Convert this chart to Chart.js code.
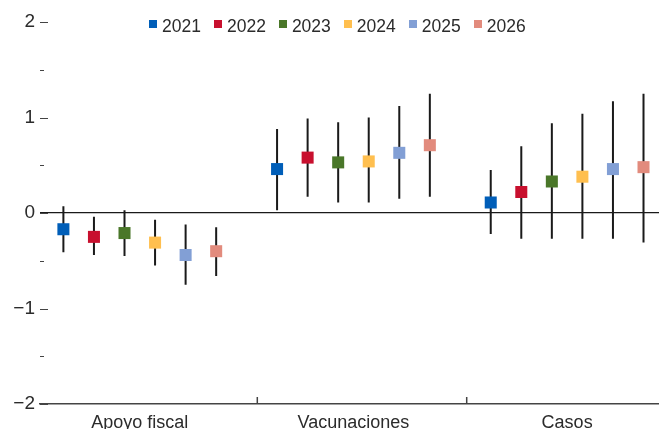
<!DOCTYPE html>
<html>
<head>
<meta charset="utf-8">
<script src="https://cdn.jsdelivr.net/npm/chart.js@4.4.1/dist/chart.umd.min.js"></script>
<style>
  html, body { margin: 0; padding: 0; background: #fff; }
  #wrap { width: 659px; height: 429px; position: relative; }
  #legend { position: absolute; top: 18px; left: 149px; display: flex; font-family: 'Liberation Sans', Arial, sans-serif; font-size: 17.5px; line-height: 17px; color: #2b2b2b; }
  #legend .item { display: flex; align-items: flex-start; margin-right: 13px; }
  #legend .box { width: 8px; height: 8px; margin-top: 1.5px; margin-right: 5px; }
</style>
</head>
<body>
<div id="wrap"><canvas id="chart"></canvas><div id="legend"></div></div>
<script>
// categories and series
const categories = ["Apoyo fiscal", "Vacunaciones", "Casos"];
const years = ["2021", "2022", "2023", "2024", "2025", "2026"];
const colors = ["#005eb8", "#c8102e", "#4a7729", "#ffbf4f", "#829fd5", "#e28b7d"];

// point estimates and bands, one value per year
const fiscalMid  = [-0.17, -0.25, -0.21, -0.31, -0.44, -0.40];
const fiscalLow  = [-0.41, -0.44, -0.45, -0.55, -0.75, -0.66];
const fiscalHigh = [0.07, -0.04, 0.03, -0.07, -0.12, -0.15];

const vacMid  = [0.46, 0.58, 0.53, 0.54, 0.63, 0.71];
const vacLow  = [0.03, 0.17, 0.11, 0.11, 0.15, 0.17];
const vacHigh = [0.88, 0.99, 0.95, 1.00, 1.12, 1.25];

const casosMid  = [0.11, 0.22, 0.33, 0.38, 0.46, 0.48];
const casosLow  = [-0.22, -0.27, -0.27, -0.27, -0.27, -0.31];
const casosHigh = [0.45, 0.70, 0.94, 1.04, 1.17, 1.25];

// y axis ticks
const yTickValues = [-2, -1.5, -1, -0.5, 0, 0.5, 1, 1.5, 2];

const mids = [fiscalMid, vacMid, casosMid];
const lows = [fiscalLow, vacLow, casosLow];
const highs = [fiscalHigh, vacHigh, casosHigh];

const FONT = "'Liberation Sans', Arial, sans-serif";
const TEXT = "#2b2b2b";
const step = 0.143;          // spacing between years inside a group
const groupBreaks = [0.55, 1.53];

//! ------------------------ datasets ------------------------
const datasets = [];
years.forEach((yr, j) => {
  const off = (j - (years.length - 1) / 2) * step;
  datasets.push({
    type: "scatter",
    label: yr,
    data: categories.map((c, i) => ({ x: i + off, y: mids[i][j] })),
    backgroundColor: colors[j],
    borderColor: colors[j],
    borderWidth: 0,
    pointStyle: "rect",
    pointRadius: 8.5,
    pointHoverRadius: 8.5,
    order: 1,
  });
});
years.forEach((yr, j) => {
  const off = (j - (years.length - 1) / 2) * step;
  const pts = [];
  categories.forEach((c, i) => {
    pts.push({ x: i + off, y: lows[i][j] });
    pts.push({ x: i + off, y: highs[i][j] });
    pts.push({ x: i + off, y: null });
  });
  datasets.push({
    type: "line",
    label: "",
    data: pts,
    borderColor: "#1a1a1a",
    borderWidth: 2,
    pointRadius: 0,
    spanGaps: false,
    fill: false,
    order: 2,
  });
});

//! ------------------------ small axis marks ------------------------
const axisMarks = {
  id: "axisMarks",
  afterDraw(chart) {
    const { ctx, chartArea, scales } = chart;
    ctx.save();
    ctx.strokeStyle = "#444";
    ctx.lineWidth = 1;
    yTickValues.forEach((v) => {
      const y = Math.round(scales.y.getPixelForValue(v)) + 0.5;
      const len = Number.isInteger(v) ? 8 : 4;
      ctx.beginPath();
      ctx.moveTo(chartArea.left, y);
      ctx.lineTo(chartArea.left + len, y);
      ctx.stroke();
    });
    ctx.lineWidth = 1.5;
    groupBreaks.forEach((b) => {
      const x = scales.x.getPixelForValue(b);
      ctx.beginPath();
      ctx.moveTo(x, chartArea.bottom);
      ctx.lineTo(x, chartArea.bottom - 7);
      ctx.stroke();
    });
    ctx.restore();
  },
};

//! ------------------------ html legend ------------------------
const htmlLegend = {
  id: "htmlLegend",
  afterUpdate(chart) {
    const box = document.getElementById("legend");
    box.innerHTML = "";
    const items = Chart.defaults.plugins.legend.labels.generateLabels(chart)
      .filter((item) => item.text !== "");
    items.forEach((item) => {
      const el = document.createElement("div");
      el.className = "item";
      const sq = document.createElement("span");
      sq.className = "box";
      sq.style.background = item.fillStyle;
      const txt = document.createElement("span");
      txt.textContent = item.text;
      el.append(sq, txt);
      box.append(el);
    });
  },
};

const fmt = (v) => {
  if (!Number.isInteger(v)) return "";
  return v < 0 ? "\u2212" + Math.abs(v) : String(v);
};

new Chart(document.getElementById("chart"), {
  type: "scatter",
  data: { datasets },
  options: {
    responsive: true,
    maintainAspectRatio: false,
    animation: false,
    layout: { autoPadding: false, padding: { top: 22, right: 0, left: 0, bottom: 0 } },
    plugins: {
      tooltip: { enabled: false },
      legend: { display: false },
    },
    scales: {
      x: {
        type: "linear",
        min: -0.467,
        max: 2.43,
        afterBuildTicks: (scale) => {
          scale.ticks = categories.map((c, i) => ({ value: i }));
        },
        afterFit: (scale) => {
          scale.height = 25;
          scale.paddingLeft = 0;
          scale.paddingRight = 0;
        },
        ticks: {
          autoSkip: false,
          maxRotation: 0,
          padding: 8,
          color: TEXT,
          font: { family: FONT, size: 18 },
          callback: (v, i) => categories[i],
        },
        grid: { display: false, drawTicks: false },
        border: { display: true, color: "#444", width: 1.5 },
      },
      y: {
        min: -2,
        max: 2,
        stacked: false,
        afterBuildTicks: (scale) => {
          scale.ticks = yTickValues.map((v) => ({ value: v }));
        },
        afterFit: (scale) => {
          scale.width = 40;
        },
        ticks: {
          padding: 5,
          color: TEXT,
          font: { family: FONT, size: 19 },
          callback: (v) => fmt(v),
        },
        grid: {
          drawTicks: false,
          color: (c) => (c.tick && c.tick.value === 0 ? "#1a1a1a" : "rgba(0,0,0,0)"),
          lineWidth: 1.2,
        },
        border: { display: false },
      },
    },
  },
  plugins: [axisMarks, htmlLegend],
});
</script>
</body>
</html>
